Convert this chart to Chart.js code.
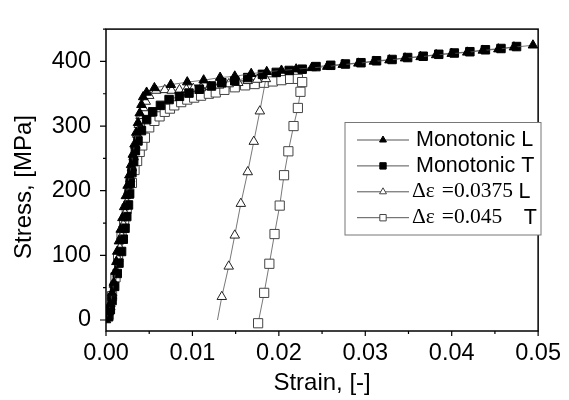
<!DOCTYPE html>
<html>
<head>
<meta charset="utf-8">
<script src="https://cdn.jsdelivr.net/npm/chart.js"></script>
<style>
  html, body { margin: 0; padding: 0; background: #fff; }
  #caixa { width: 569px; height: 400px; }
</style>
</head>
<body>
<div id="caixa"><canvas id="grafico"></canvas></div>
<script>
// Series names (legend order)
const seriesNames = ['Monotonic L', 'Monotonic T', 'Δε =0.0375 L', 'Δε =0.045\u2003T'];
const strainTitle = 'Strain, [-]';
const stressTitle = 'Stress, [MPa]';

// Axis ticks
const strainTicks = [0, 0.01, 0.02, 0.03, 0.04, 0.05];
const stressTicks = [0, 100, 200, 300, 400];

// Monotonic L (filled triangles)
const monoLStrain = [0, 0.0003, 0.0005, 0.0007, 0.0009, 0.0011, 0.0012, 0.0013, 0.0015, 0.0017,
    0.0019, 0.0021, 0.0023, 0.0025, 0.0027, 0.0029, 0.0031, 0.0033, 0.0035, 0.0037,
    0.0039, 0.0041, 0.0043, 0.0047, 0.0056, 0.0075, 0.0094, 0.0113, 0.0132, 0.0149,
    0.0168, 0.0186, 0.0203, 0.0220, 0.0238, 0.0256, 0.0274, 0.0292, 0.0310, 0.0328,
    0.0346, 0.0364, 0.0382, 0.0400, 0.0418, 0.0436, 0.0454, 0.0472, 0.0494];
const monoLStress = [0, 12, 25, 42, 58, 75, 90, 106, 122, 140,
    158, 175, 192, 208, 224, 240, 256, 272, 290, 305,
    320, 333, 345, 352, 359, 364, 368, 371, 375, 377,
    381, 384, 386, 388, 390, 392, 395, 397, 400, 402,
    405, 407, 410, 412, 414, 417, 419, 422, 425];

// Monotonic T (filled squares)
const monoTStrain = [0.0003, 0.0005, 0.0007, 0.0010, 0.0013, 0.0015, 0.0018, 0.0020, 0.0022, 0.0024,
    0.0026, 0.0027, 0.0028, 0.0030, 0.0032, 0.0034, 0.0037, 0.0041, 0.0047, 0.0054,
    0.0063, 0.0073, 0.0085, 0.0096, 0.0108, 0.0122, 0.0134, 0.0149, 0.0164, 0.0181,
    0.0197, 0.0212, 0.0227, 0.0243, 0.0260, 0.0277, 0.0295, 0.0313, 0.0331, 0.0349,
    0.0367, 0.0385, 0.0403, 0.0421, 0.0439, 0.0457, 0.0475];
const monoTStress = [5, 16, 30, 52, 72, 88, 106, 125, 142, 160,
    178, 195, 212, 228, 245, 262, 277, 293, 310, 322,
    332, 341, 346, 351, 357, 362, 367, 370, 375, 380,
    383, 386, 388, 392, 394, 396, 398, 401, 403, 406,
    408, 411, 413, 415, 418, 420, 423];

// Δε = 0.0375 L (open triangles), last point is the line end without marker
const cycLStrain = [0.0002, 0.0005, 0.0007, 0.0009, 0.0012, 0.0014, 0.0016, 0.0018, 0.0020, 0.0022,
    0.0024, 0.0026, 0.0028, 0.0030, 0.0032, 0.0034, 0.0036, 0.0038, 0.0040, 0.0043,
    0.0046, 0.0050, 0.0058, 0.0068, 0.0076, 0.0085, 0.0093, 0.0101, 0.0110, 0.0120,
    0.0131, 0.0142, 0.0153, 0.0164, 0.0175, 0.0185, 0.0178, 0.0171, 0.0164, 0.0156,
    0.0149, 0.0142, 0.0134, 0.0129];
const cycLStress = [5, 20, 38, 55, 75, 95, 112, 130, 148, 165,
    182, 200, 218, 235, 252, 270, 287, 302, 316, 328,
    338, 347, 355, 356, 355, 356, 357, 358, 359, 361,
    363, 365, 367, 370, 372, 373, 323, 276, 229, 180,
    131, 83, 36, 0];

// Δε = 0.045 T (open squares)
const cycTStrain = [0.0003, 0.0007, 0.0011, 0.0014, 0.0018, 0.0021, 0.0024, 0.0027, 0.0030, 0.0033,
    0.0036, 0.0039, 0.0042, 0.0045, 0.0050, 0.0056, 0.0062, 0.0068, 0.0074, 0.0079,
    0.0087, 0.0094, 0.0102, 0.0110, 0.0119, 0.0127, 0.0137, 0.0149, 0.0161, 0.0172,
    0.0183, 0.0193, 0.0203, 0.0213, 0.0222, 0.0227, 0.0225, 0.0222, 0.0217, 0.0211,
    0.0206, 0.0201, 0.0195, 0.0189, 0.0183, 0.0176];
const cycTStress = [8, 37, 66, 97, 128, 150, 172, 196, 212, 232,
    246, 260, 270, 282, 298, 308, 315, 322, 327, 332,
    337, 341, 344, 347, 350, 352, 356, 360, 363, 365,
    367, 369, 371, 373, 373, 368, 353, 328, 300, 261,
    224, 177, 133, 87, 42, -5];

const fonteSans = "'Liberation Sans', Arial, sans-serif";
const fonteSerif = "'Liberation Serif', 'DejaVu Serif', serif";
const corLinha = '#555';

function pontos(xs, ys) {
    return xs.map((x, i) => ({ x: x, y: ys[i] }));
}

// Legend marker style for each series
const marcadores = [
    { forma: 'triangle', cheio: true },
    { forma: 'rect', cheio: true },
    { forma: 'triangle', cheio: false },
    { forma: 'rect', cheio: false }
];

function desenhaMarcador(ctx, forma, cheio, x, y, r) {
    ctx.beginPath();
    if (forma === 'triangle') {
        ctx.moveTo(x, y - r);
        ctx.lineTo(x + r * 0.866, y + r * 0.5);
        ctx.lineTo(x - r * 0.866, y + r * 0.5);
        ctx.closePath();
    } else {
        const s = r * Math.SQRT1_2;
        ctx.rect(x - s, y - s, 2 * s, 2 * s);
    }
    ctx.fillStyle = cheio ? '#000' : '#fff';
    ctx.fill();
    ctx.lineWidth = 1;
    ctx.strokeStyle = cheio ? '#000' : '#444';
    ctx.stroke();
}

// Frame, tick marks, y title and legend drawn on top of the chart
const molduraPlugin = {
    id: 'moldura',
    afterDraw(chart) {
        const { ctx, chartArea: a, scales } = chart;
        ctx.save();

        // ticks (major + minor, pointing outward)
        ctx.strokeStyle = '#000';
        ctx.lineWidth = 1.2;
        ctx.beginPath();
        strainTicks.forEach((v, i) => {
            const px = scales.x.getPixelForValue(v);
            ctx.moveTo(px, a.bottom);
            ctx.lineTo(px, a.bottom + 5);
            if (i < strainTicks.length - 1) {
                const pm = scales.x.getPixelForValue((v + strainTicks[i + 1]) / 2);
                ctx.moveTo(pm, a.bottom);
                ctx.lineTo(pm, a.bottom + 3);
            }
        });
        stressTicks.forEach(v => {
            const py = scales.y.getPixelForValue(v);
            ctx.moveTo(a.left, py);
            ctx.lineTo(a.left - 6, py);
            const pm = scales.y.getPixelForValue(v + 50);
            ctx.moveTo(a.left, pm);
            ctx.lineTo(a.left - 3, pm);
        });
        ctx.stroke();

        // frame
        ctx.lineWidth = 1.5;
        ctx.strokeRect(a.left, a.top, a.right - a.left, a.bottom - a.top);

        // y title
        ctx.save();
        ctx.translate(24, 187);
        ctx.rotate(-Math.PI / 2);
        ctx.fillStyle = '#000';
        ctx.font = '24px ' + fonteSans;
        ctx.textAlign = 'center';
        ctx.textBaseline = 'middle';
        ctx.fillText(stressTitle, 0, 0);
        ctx.restore();

        // legend box
        const lx = 345, ly = 122.5, lw = 196, lh = 112.5;
        ctx.fillStyle = '#fff';
        ctx.fillRect(lx, ly, lw, lh);
        ctx.lineWidth = 1;
        ctx.strokeStyle = '#777';
        ctx.strokeRect(lx, ly, lw, lh);

        seriesNames.forEach((nome, i) => {
            const y = 140 + i * 25.9;
            ctx.strokeStyle = corLinha;
            ctx.lineWidth = 1;
            ctx.beginPath();
            ctx.moveTo(357, y);
            ctx.lineTo(409, y);
            ctx.stroke();
            const m = marcadores[i];
            desenhaMarcador(ctx, m.forma, m.cheio, 383, y, m.forma === 'triangle' ? 4 : 4.5);

            ctx.fillStyle = '#000';
            ctx.textBaseline = 'middle';
            ctx.textAlign = 'left';
            const partes = nome.match(/^(Δε)\s(\S+)(\s+)(\S+)$/);
            if (!partes) {
                ctx.font = '21.5px ' + fonteSans;
                ctx.fillText(nome, 416, y);
            } else {
                let x = 412;
                ctx.font = '21.5px ' + fonteSerif;
                ctx.fillText(partes[1], x, y);
                x += ctx.measureText(partes[1]).width + 7;
                ctx.fillText(partes[2], x, y);
                x += ctx.measureText(partes[2]).width;
                x += ctx.measureText(partes[3]).width;
                ctx.font = '21.5px ' + fonteSans;
                ctx.fillText(partes[4], x, y);
            }
        });
        ctx.restore();
    }
};

const ctxGrafico = document.getElementById('grafico').getContext('2d');

new Chart(ctxGrafico, {
    type: 'scatter',
    data: {
        datasets: [
            {
                label: seriesNames[0],
                data: pontos(monoLStrain, monoLStress),
                showLine: true,
                borderColor: corLinha,
                borderWidth: 0.8,
                pointStyle: 'triangle',
                pointRadius: 5.5,
                pointBackgroundColor: '#000',
                pointBorderColor: '#000',
                pointBorderWidth: 1
            },
            {
                label: seriesNames[1],
                data: pontos(monoTStrain, monoTStress),
                showLine: true,
                borderColor: corLinha,
                borderWidth: 0.8,
                pointStyle: 'rect',
                pointRadius: 6,
                pointBackgroundColor: '#000',
                pointBorderColor: '#000',
                pointBorderWidth: 1
            },
            {
                label: seriesNames[2],
                data: pontos(cycLStrain, cycLStress),
                showLine: true,
                borderColor: corLinha,
                borderWidth: 0.8,
                pointStyle: 'triangle',
                pointRadius: c => (c.dataIndex === cycLStrain.length - 1 ? 0 : 5.5),
                pointBackgroundColor: '#fff',
                pointBorderColor: '#222',
                pointBorderWidth: 1
            },
            {
                label: seriesNames[3],
                data: pontos(cycTStrain, cycTStress),
                showLine: true,
                borderColor: corLinha,
                borderWidth: 0.8,
                pointStyle: 'rect',
                pointRadius: 6.5,
                pointBackgroundColor: '#fff',
                pointBorderColor: '#444',
                pointBorderWidth: 1
            }
        ]
    },
    options: {
        responsive: true,
        maintainAspectRatio: false,
        animation: false,
        devicePixelRatio: 1,
        layout: { padding: { top: 7, right: 25, left: 0, bottom: 0 } },
        plugins: {
            legend: { display: false },
            tooltip: { enabled: false }
        },
        scales: {
            x: {
                type: 'linear',
                min: 0,
                max: 0.05,
                afterBuildTicks: s => { s.ticks = strainTicks.map(v => ({ value: v })); },
                afterFit: s => { s.height = 69; },
                grid: { display: false, drawTicks: false },
                border: { display: false },
                ticks: {
                    autoSkip: false,
                    maxRotation: 0,
                    padding: 8,
                    color: '#000',
                    font: { family: fonteSans, size: 23.5 },
                    callback: v => v.toFixed(2)
                },
                title: {
                    display: true,
                    text: strainTitle,
                    color: '#000',
                    font: { family: fonteSans, size: 24 },
                    padding: { top: 0, bottom: 2 }
                }
            },
            y: {
                type: 'linear',
                min: -17,
                max: 450,
                afterBuildTicks: s => { s.ticks = stressTicks.map(v => ({ value: v })); },
                afterFit: s => { s.width = 106; },
                grid: { display: false, drawTicks: false },
                border: { display: false },
                ticks: {
                    autoSkip: false,
                    padding: 15,
                    color: '#000',
                    font: { family: fonteSans, size: 23.5 },
                    callback: v => String(v)
                }
            }
        }
    },
    plugins: [molduraPlugin]
});
</script>
</body>
</html>
